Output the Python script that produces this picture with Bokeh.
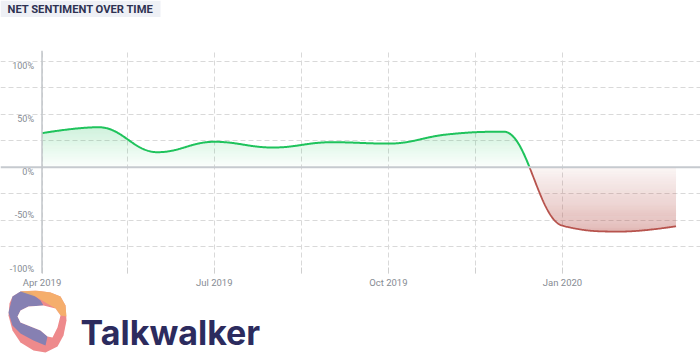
import numpy as np
import pandas as pd
from bokeh.plotting import figure
from bokeh.layouts import column
from bokeh.models import Range1d, FixedTicker, Span
from bokeh.core.properties import value
from bokeh.embed import file_html
from bokeh.resources import INLINE

# ---------------- data ----------------
months = ["2019-04-01", "2019-05-01", "2019-06-01", "2019-07-01", "2019-08-01", "2019-09-01",
          "2019-10-01", "2019-11-01", "2019-12-01", "2020-01-01", "2020-02-01", "2020-03-01"]
net_sentiment = [32.2, 37.8, 14.3, 24.1, 18.7, 23.7, 22.4, 31.0, 33.6, -55.0, -60.5, -55.5]

x_tick_dates = ["2019-04-01", "2019-05-16", "2019-07-01", "2019-08-16",
                "2019-10-01", "2019-11-16", "2020-01-01"]
x_tick_labels = ["Apr 2019", "", "Jul 2019", "", "Oct 2019", "", "Jan 2020"]

y_tick_values = [100, 50, 0, -50, -100]
y_tick_labels = ["100%", "50%", "0%", "-50%", "-100%"]
y_grid_values = [100, 75, 50, 25, -25, -50, -75, -100]

title_text = "NET SENTIMENT OVER TIME"
brand_text = "Talkwalker"

# ---------------- styles ----------------
GREEN = "#1fc35c"
RED = "#b7534d"
GRID = "#d9d9d9"
LABEL = "#868b93"
NAVY = "#2c2b5e"
FONT = "Roboto"

origin = pd.Timestamp("2019-04-01")
xd = np.array([(pd.Timestamp(m) - origin).days for m in months], dtype=float)
yd = np.array(net_sentiment, dtype=float)
x_ticks = [int((pd.Timestamp(d) - origin).days) for d in x_tick_dates]


def spline_curve(xs, ys, n=80):
    """Smooth spline through the points (Highcharts-like spline rendering)."""
    s = 1.5
    den = s + 1
    N = len(xs)
    lc = [None] * N
    rc = [None] * N
    for i in range(1, N - 1):
        x, y = xs[i], ys[i]
        px, py = xs[i - 1], ys[i - 1]
        nx, ny = xs[i + 1], ys[i + 1]
        lcx, lcy = (s * x + px) / den, (s * y + py) / den
        rcx, rcy = (s * x + nx) / den, (s * y + ny) / den
        corr = 0.0
        if rcx != lcx:
            corr = (rcy - lcy) * (rcx - x) / (rcx - lcx) + y - rcy
        lcy += corr
        rcy += corr
        if lcy > py and lcy > y:
            lcy = max(py, y); rcy = 2 * y - lcy
        elif lcy < py and lcy < y:
            lcy = min(py, y); rcy = 2 * y - lcy
        if rcy > ny and rcy > y:
            rcy = max(ny, y); lcy = 2 * y - rcy
        elif rcy < ny and rcy < y:
            rcy = min(ny, y); lcy = 2 * y - rcy
        lc[i] = (lcx, lcy)
        rc[i] = (rcx, rcy)
    t = np.linspace(0, 1, n + 1)[1:]
    ox, oy = [xs[0]], [ys[0]]
    for i in range(1, N):
        p0 = (xs[i - 1], ys[i - 1])
        p3 = (xs[i], ys[i])
        p1 = rc[i - 1] if rc[i - 1] is not None else p0
        p2 = lc[i] if lc[i] is not None else p3
        a, b, c, d = (1 - t) ** 3, 3 * (1 - t) ** 2 * t, 3 * (1 - t) * t ** 2, t ** 3
        ox.extend(a * p0[0] + b * p1[0] + c * p2[0] + d * p3[0])
        oy.extend(a * p0[1] + b * p1[1] + c * p2[1] + d * p3[1])
    return np.array(ox), np.array(oy)


cx, cy = spline_curve(xd, yd)
# insert zero crossings
fx, fy = [cx[0]], [cy[0]]
for i in range(1, len(cx)):
    if (cy[i - 1] > 0 and cy[i] < 0) or (cy[i - 1] < 0 and cy[i] > 0):
        f = cy[i - 1] / (cy[i - 1] - cy[i])
        fx.append(cx[i - 1] + f * (cx[i] - cx[i - 1]))
        fy.append(0.0)
    fx.append(cx[i])
    fy.append(cy[i])
fx = np.array(fx)
fy = np.array(fy)

# ---------------- title strip ----------------
top = figure(width=700, height=20, x_range=Range1d(0, 700), y_range=Range1d(20, 0),
             toolbar_location=None, output_backend="svg", title=None,
             x_axis_location=None, y_axis_location=None,
             min_border=0, outline_line_color=None)
top.grid.visible = False
top.quad(left=[0], right=[160], top=[0], bottom=[16.5], fill_color="#eef0f5", line_color=None)
top.text(x=[7], y=[8.8], text=[title_text], text_font=value(FONT), text_font_style="bold",
         text_font_size="11.2px", text_color="#2e3252", text_baseline="middle", text_align="left")

# ---------------- main chart ----------------
p = figure(width=700, height=270, x_range=Range1d(-21.93, 347.92), y_range=Range1d(-100, 110.1),
           toolbar_location=None, output_backend="svg", title=None,
           y_axis_location=None, min_border_left=0, min_border_right=0,
           min_border_top=30, min_border_bottom=17, outline_line_color=None)

p.xaxis.ticker = FixedTicker(ticks=x_ticks)
p.xaxis.major_label_overrides = {t: l for t, l in zip(x_ticks, x_tick_labels)}
p.xaxis.axis_line_color = None
p.xaxis.major_tick_in = 6
p.xaxis.major_tick_out = 0
p.xaxis.major_tick_line_color = "#cfcfcf"
p.xaxis.minor_tick_line_color = None
p.xaxis.major_label_text_font = FONT
p.xaxis.major_label_text_font_size = "9.5px"
p.xaxis.major_label_text_color = LABEL
p.xaxis.major_label_standoff = 3

p.xgrid.ticker = FixedTicker(ticks=x_ticks)
p.xgrid.grid_line_color = GRID
p.xgrid.grid_line_dash = "5 3"
p.xgrid.grid_line_width = 1
p.ygrid.ticker = FixedTicker(ticks=y_grid_values)
p.ygrid.grid_line_color = GRID
p.ygrid.grid_line_dash = "5 3"
p.ygrid.grid_line_width = 1

# gradient-like fills (bands of growing opacity)
gmax = max(0.0, fy.max())
for k in range(int(np.ceil(gmax))):
    y2 = np.clip(fy, k, k + 1)
    p.varea(x=fx, y1=np.full_like(fx, k), y2=y2, fill_color=GREEN,
            fill_alpha=0.015 + 0.20 * (k + 0.5) / gmax)
rmax = max(0.0, -fy.min())
for k in range(int(np.ceil(rmax))):
    y2 = np.clip(fy, -(k + 1), -k)
    p.varea(x=fx, y1=np.full_like(fx, -k), y2=y2, fill_color=RED,
            fill_alpha=0.05 + 0.37 * (k + 0.5) / rmax)

p.add_layout(Span(location=0, dimension="width", line_color="#c6cacf", line_width=2))
p.add_layout(Span(location=0, dimension="height", line_color="#c2c6ca", line_width=1.5))

pos_y = np.where(fy >= 0, fy, np.nan)
neg_y = np.where(fy <= 0, fy, np.nan)
p.line(fx, pos_y, line_color=GREEN, line_width=2)
p.line(fx, neg_y, line_color=RED, line_width=1.8)

# y tick labels (inside the plot area, left of the axis line)
nn = [(v, l) for v, l in zip(y_tick_values, y_tick_labels) if v >= 0]
ng = [(v, l) for v, l in zip(y_tick_values, y_tick_labels) if v < 0]
p.text(x=[0] * len(nn), y=[v for v, _ in nn], text=[l for _, l in nn], x_offset=-8,
       text_align="right", text_baseline="top", text_font=value(FONT),
       text_font_size="9px", text_color=LABEL)
p.text(x=[0] * len(ng), y=[v for v, _ in ng], text=[l for _, l in ng], x_offset=-8,
       text_align="right", text_baseline="bottom", text_font=value(FONT),
       text_font_size="9px", text_color=LABEL)

# ---------------- brand strip ----------------
logo = figure(width=700, height=67, x_range=Range1d(0, 700), y_range=Range1d(357, 290),
              toolbar_location=None, output_backend="svg", title=None,
              x_axis_location=None, y_axis_location=None,
              min_border=0, outline_line_color=None)
logo.grid.visible = False
outer = [(12, 296), (20, 291), (35, 290), (50, 292), (60, 296), (65, 305), (66, 320), (63, 335),
         (57, 346), (45, 352), (33, 350), (20, 342), (12, 330), (8, 315), (9, 303)]
blue = [(12, 296), (20, 291), (30, 292), (40, 300), (43, 305), (28, 306), (20, 310), (17, 316),
        (20, 322), (30, 326), (40, 330), (47, 336), (45, 345), (33, 340), (20, 333), (12, 325), (8, 312)]
orange = [(20, 291), (35, 290), (50, 292), (60, 296), (65, 305), (66, 316), (60, 315), (55, 308),
          (45, 302), (35, 296)]
inner = [(20, 310), (28, 306), (43, 305), (55, 308), (60, 315), (57, 327), (52, 337), (47, 336),
         (40, 330), (30, 326), (20, 322), (17, 316)]
logo.patch([q[0] for q in outer], [q[1] for q in outer], fill_color="#ee8a8c", line_color=None)
logo.patch([q[0] for q in blue], [q[1] for q in blue], fill_color="#6b7dbb", fill_alpha=0.8, line_color=None)
logo.patch([q[0] for q in orange], [q[1] for q in orange], fill_color="#f6b466", fill_alpha=0.85, line_color=None)
logo.patch([q[0] for q in inner], [q[1] for q in inner], fill_color="white", line_color=None)
logo.text(x=[80], y=[331.7], text=[brand_text], text_font=value("Inter"), text_font_style="bold",
          text_font_size="34px", text_color=NAVY, text_baseline="alphabetic", text_align="left")

layout = column(top, p, logo, spacing=0)
open("out.html", "w").write(file_html(layout, INLINE))
